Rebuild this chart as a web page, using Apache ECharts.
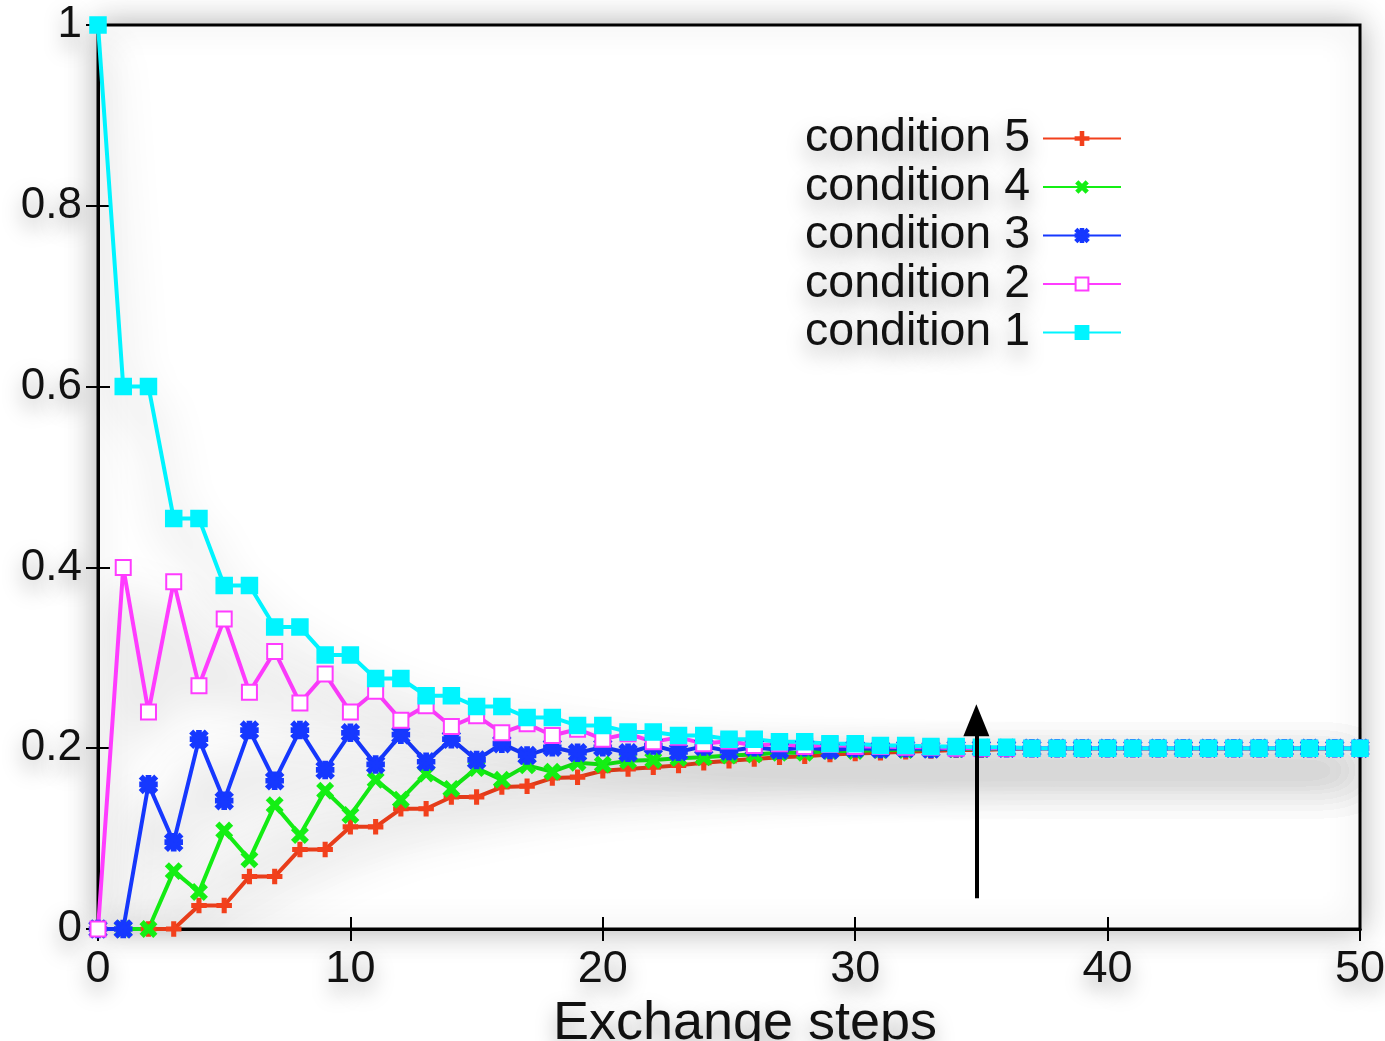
<!DOCTYPE html>
<html>
<head>
<meta charset="utf-8">
<style>
  html, body { margin: 0; padding: 0; background: #fff; }
  #chart { width: 1385px; height: 1041px; }
</style>
<script src="https://cdn.jsdelivr.net/npm/echarts@6/dist/echarts.min.js"></script>
</head>
<body>
<div id="chart"></div>
<script>
// exchange steps 0..50
var steps = [];
for (var s = 0; s <= 50; s++) steps.push(s);

var cond1 = [1, 0.6, 0.6, 0.454, 0.454, 0.38, 0.38, 0.334, 0.334, 0.303, 0.303,
  0.277, 0.277, 0.258, 0.258, 0.246, 0.246, 0.234, 0.234, 0.225, 0.225,
  0.218, 0.218, 0.214, 0.214, 0.21, 0.21, 0.207, 0.207, 0.205, 0.205,
  0.203, 0.203, 0.202, 0.202, 0.201, 0.201, 0.2, 0.2, 0.2, 0.2,
  0.2, 0.2, 0.2, 0.2, 0.2, 0.2, 0.2, 0.2, 0.2, 0.2];
var cond2 = [0, 0.4, 0.24, 0.384, 0.269, 0.343, 0.262, 0.307, 0.25, 0.282, 0.24,
  0.263, 0.231, 0.247, 0.224, 0.236, 0.217, 0.227, 0.214, 0.221, 0.21,
  0.216, 0.207, 0.212, 0.205, 0.208, 0.203, 0.205, 0.202, 0.204, 0.202,
  0.202, 0.201, 0.201, 0.2, 0.2, 0.2, 0.2, 0.2, 0.2, 0.2,
  0.2, 0.2, 0.2, 0.2, 0.2, 0.2, 0.2, 0.2, 0.2, 0.2];
var cond3 = [0, 0, 0.16, 0.096, 0.21, 0.142, 0.22, 0.164, 0.22, 0.176, 0.217,
  0.182, 0.215, 0.185, 0.21, 0.187, 0.205, 0.192, 0.201, 0.195, 0.201,
  0.195, 0.203, 0.196, 0.202, 0.197, 0.201, 0.198, 0.201, 0.198, 0.2,
  0.199, 0.2, 0.199, 0.2, 0.2, 0.2, 0.2, 0.2, 0.2, 0.2,
  0.2, 0.2, 0.2, 0.2, 0.2, 0.2, 0.2, 0.2, 0.2, 0.2];
var cond4 = [0, 0, 0, 0.064, 0.041, 0.109, 0.077, 0.137, 0.104, 0.153, 0.126,
  0.165, 0.143, 0.172, 0.155, 0.178, 0.165, 0.181, 0.174, 0.184, 0.182,
  0.186, 0.187, 0.189, 0.19, 0.192, 0.193, 0.195, 0.195, 0.197, 0.197,
  0.198, 0.198, 0.199, 0.199, 0.199, 0.2, 0.2, 0.2, 0.2, 0.2,
  0.2, 0.2, 0.2, 0.2, 0.2, 0.2, 0.2, 0.2, 0.2, 0.2];
var cond5 = [0, 0, 0, 0, 0.026, 0.026, 0.058, 0.058, 0.088, 0.088, 0.113,
  0.113, 0.133, 0.133, 0.146, 0.146, 0.157, 0.158, 0.167, 0.168, 0.175,
  0.177, 0.179, 0.181, 0.184, 0.186, 0.188, 0.19, 0.191, 0.193, 0.194,
  0.195, 0.196, 0.197, 0.198, 0.198, 0.199, 0.2, 0.2, 0.2, 0.2,
  0.2, 0.2, 0.2, 0.2, 0.2, 0.2, 0.2, 0.2, 0.2, 0.2];

var xTicks = [0, 10, 20, 30, 40, 50];
var yTicks = [0, 0.2, 0.4, 0.6, 0.8, 1];

// arrow marking where the curves have settled
var arrowX = 34.8;
var arrowFrom = 0.034;
var arrowTo = 0.231;

var plusPath = 'path://M4,0H6V10H4Z M0,4H10V6H0Z';
var starPath = 'path://M4,0H6V10H4Z M0,4H10V6H0Z M0,1.4L1.4,0L10,8.6L8.6,10Z M8.6,0L10,1.4L1.4,10L0,8.6Z';

var font = "'Liberation Sans', Arial, sans-serif";
var haze = 'rgba(0,0,0,0.45)';
var textHaze = 'rgba(0,0,0,0.35)';

function pairs(vals) {
  return steps.map(function (x, i) { return [x, vals[i]]; });
}

function makeSeries(name, vals, color, symbol, size, extra) {
  var s = {
    name: name,
    type: 'line',
    data: pairs(vals),
    symbol: symbol,
    symbolSize: size,
    showAllSymbol: true,
    color: color,
    lineStyle: {
      color: color,
      width: 4,
      shadowColor: haze,
      shadowBlur: 45,
      shadowOffsetY: 22
    },
    itemStyle: { color: color, borderColor: color, borderWidth: 2.5 },
    emphasis: { disabled: true },
    animation: false
  };
  for (var k in extra) s[k] = extra[k];
  return s;
}

var chart = echarts.init(document.getElementById('chart'));

chart.setOption({
  backgroundColor: '#fff',
  textStyle: { fontFamily: font },
  grid: {
    left: 98, right: 25, top: 25, bottom: 112,
    outerBoundsMode: 'none',
    show: true,
    borderColor: '#000',
    borderWidth: 3,
    backgroundColor: '#fff',
    shadowColor: 'rgba(0,0,0,0.3)',
    shadowBlur: 30
  },
  legend: {
    orient: 'vertical',
    align: 'right',
    right: 258,
    top: 110,
    itemWidth: 78,
    itemHeight: 16,
    itemGap: 1.5,
    data: ['condition 5', 'condition 4', 'condition 3', 'condition 2', 'condition 1'],
    textStyle: {
      fontSize: 46.5,
      lineHeight: 47,
      color: '#111',
      padding: [0, 8, 0, 0],
      textShadowColor: textHaze,
      textShadowBlur: 20,
      textShadowOffsetY: 10
    }
  },
  xAxis: [{
    type: 'value',
    min: 0, max: 50, interval: 10,
    name: 'Exchange steps',
    nameLocation: 'middle',
    nameGap: 60,
    nameTextStyle: {
      fontSize: 54, color: '#111', padding: [0, 0, 0, 32],
      textShadowColor: textHaze, textShadowBlur: 20, textShadowOffsetY: 10
    },
    axisLine: { show: true, lineStyle: { color: '#000', width: 3 } },
    axisTick: { show: true, inside: true, length: 12, lineStyle: { color: '#000', width: 2 } },
    axisLabel: {
      fontSize: 45, color: '#111', margin: 18,
      formatter: function (v) { return xTicks.indexOf(v) >= 0 ? String(v) : ''; },
      textShadowColor: textHaze, textShadowBlur: 20, textShadowOffsetY: 10
    },
    splitLine: { show: false }
  }, {
    type: 'value',
    position: 'top',
    min: 0, max: 50, interval: 10,
    axisLine: { show: true, lineStyle: { color: '#000', width: 3 } },
    axisTick: { show: true, inside: true, length: 12, lineStyle: { color: '#000', width: 2 } },
    axisLabel: { show: false },
    splitLine: { show: false }
  }],
  yAxis: [{
    type: 'value',
    min: 0, max: 1, interval: 0.2,
    axisLine: { show: true, lineStyle: { color: '#000', width: 3 } },
    axisTick: { show: true, inside: true, length: 12, lineStyle: { color: '#000', width: 2 } },
    axisLabel: {
      fontSize: 44, color: '#111', margin: 16,
      formatter: function (v) {
        var r = Math.round(v * 10) / 10;
        return yTicks.indexOf(r) >= 0 ? String(r) : '';
      },
      textShadowColor: textHaze, textShadowBlur: 20, textShadowOffsetY: 10
    },
    splitLine: { show: false }
  }, {
    type: 'value',
    position: 'right',
    min: 0, max: 1, interval: 0.2,
    axisLine: { show: true, lineStyle: { color: '#000', width: 3 } },
    axisTick: { show: true, inside: true, length: 12, lineStyle: { color: '#000', width: 2 } },
    axisLabel: { show: false },
    splitLine: { show: false }
  }],
  series: [
    makeSeries('condition 5', cond5, '#f2401c', plusPath, 13, {}),
    makeSeries('condition 4', cond4, '#14ef14', plusPath, 17, { symbolRotate: 45 }),
    makeSeries('condition 3', cond3, '#1638ff', starPath, 16, {}),
    makeSeries('condition 2', cond2, '#ff3cff', 'emptyRect', 15, {}),
    makeSeries('condition 1', cond1, '#00f4ff', 'rect', 15, {
      markLine: {
        silent: true,
        animation: false,
        symbol: ['none', 'triangle'],
        symbolSize: 28,
        label: { show: false },
        itemStyle: { color: '#000' },
        lineStyle: { color: '#000', width: 4, type: 'solid', shadowBlur: 0, opacity: 1 },
        emphasis: { disabled: true },
        data: [[
          { coord: [arrowX, arrowFrom], symbol: 'none' },
          { coord: [arrowX, arrowTo], symbol: 'triangle', symbolSize: [26, 32], itemStyle: { color: '#000' } }
        ]]
      }
    })
  ]
});
</script>
</body>
</html>
